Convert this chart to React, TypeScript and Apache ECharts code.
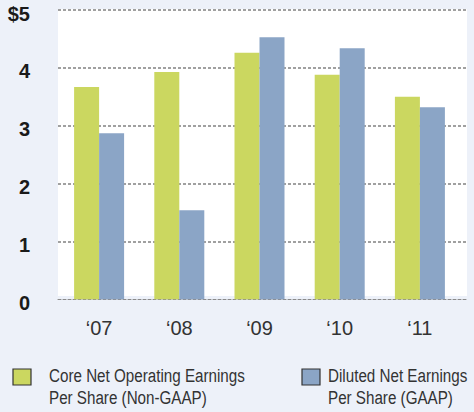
import React, { useEffect, useRef } from "react";
import * as echarts from "echarts";

const years = ["\u201807", "\u201808", "\u201809", "\u201810", "\u201811"];
const coreEps = [3.67, 3.93, 4.26, 3.88, 3.5];
const dilutedEps = [2.87, 1.54, 4.53, 4.34, 3.32];
const coreName = "Core Net Operating Earnings\nPer Share (Non-GAAP)";
const dilutedName = "Diluted Net Earnings\nPer Share (GAAP)";

const FONT = "'Liberation Sans', Arial, sans-serif";
const GREEN = "#cbd760";
const BLUE = "#8ba5c6";

function legendItem(x: number, textX: number, color: string, text: string) {
  return {
    type: "group",
    children: [
      {
        type: "rect",
        shape: { x, y: 369, width: 18, height: 16 },
        style: { fill: color, stroke: "#333", lineWidth: 1.2 },
      },
      {
        type: "text",
        x: textX,
        y: 386,
        scaleX: 0.8,
        style: {
          text,
          fontSize: 19,
          fontFamily: FONT,
          fill: "#333",
          lineHeight: 22,
          align: "left",
          verticalAlign: "middle",
        },
      },
    ],
  };
}

export default function App() {
  const ref = useRef<HTMLDivElement>(null);
  useEffect(() => {
    if (!ref.current) return;
    const chart = echarts.init(ref.current, undefined, { renderer: "svg" });
    chart.setOption({
      animation: false,
      backgroundColor: "#edf1f9",
      graphic: [
        { type: "rect", shape: { x: 58, y: 9, width: 409, height: 287 }, style: { fill: "#ffffff" }, z: -10, silent: true },
        legendItem(13, 49, GREEN, coreName),
        legendItem(302, 328, BLUE, dilutedName),
      ],
      grid: [
        { left: 58, right: 8, top: 10, bottom: 112.7 },
        { left: 59, right: 14, top: 10, bottom: 112.7 },
      ],
      xAxis: [
        {
          gridIndex: 0,
          type: "value",
          min: 0,
          max: 1,
          axisLabel: { show: false },
          axisTick: { show: false },
          splitLine: { show: false },
          axisLine: { show: true, lineStyle: { color: "#8a8a8a", width: 1, type: [3, 2] } },
        },
        {
          gridIndex: 1,
          type: "category",
          data: years,
          axisLine: { show: false },
          axisTick: { show: false },
          axisLabel: { color: "#333", fontSize: 20, fontFamily: FONT, margin: 19 },
        },
      ],
      yAxis: [
        {
          gridIndex: 0,
          type: "value",
          min: 0,
          max: 5,
          interval: 1,
          axisLine: { show: false },
          axisTick: { show: false },
          axisLabel: {
            color: "#1a1a1a",
            fontSize: 20,
            fontWeight: "bold",
            fontFamily: FONT,
            margin: 28,
            verticalAlign: "top",
            lineHeight: 7,
            formatter: (v: number) => (v === 5 ? "$5" : String(v)),
          },
          splitLine: { show: true, showMinLine: false, lineStyle: { color: "#a0a0a0", width: 2, type: [3, 2] } },
        },
        {
          gridIndex: 1,
          type: "value",
          min: 0,
          max: 5,
          interval: 1,
          show: false,
          splitLine: { show: false },
        },
      ],
      series: [
        {
          name: coreName,
          type: "bar",
          xAxisIndex: 1,
          yAxisIndex: 1,
          data: coreEps,
          barWidth: 25,
          barGap: "0%",
          itemStyle: { color: GREEN },
        },
        {
          name: dilutedName,
          type: "bar",
          xAxisIndex: 1,
          yAxisIndex: 1,
          data: dilutedEps,
          barWidth: 25,
          barGap: "0%",
          itemStyle: { color: BLUE },
        },
      ],
    });
    return () => chart.dispose();
  }, []);
  return <div ref={ref} style={{ position: "fixed", left: 0, top: 0, width: 474, height: 412 }} />;
}
